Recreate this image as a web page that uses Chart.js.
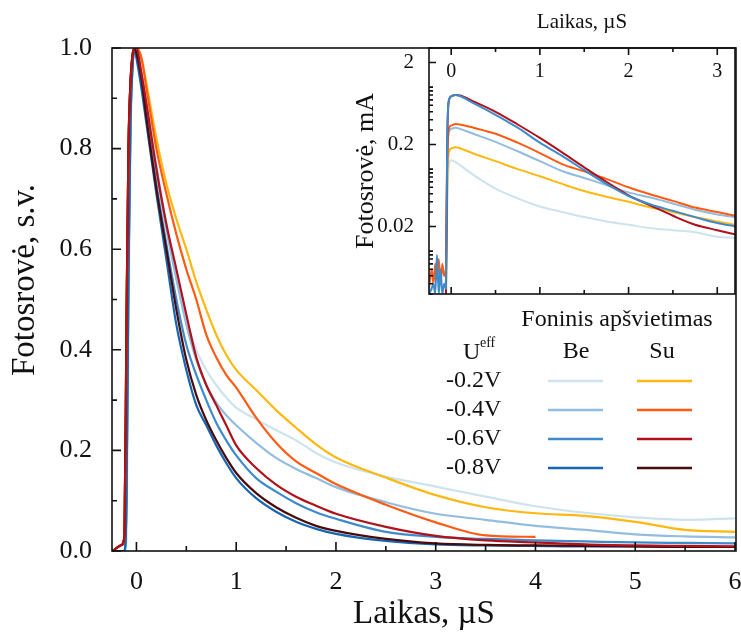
<!DOCTYPE html>
<html>
<head>
<meta charset="utf-8">
<script src="https://cdn.jsdelivr.net/npm/chart.js@4.4.1/dist/chart.umd.min.js"></script>
<style>
  html, body { margin: 0; padding: 0; background: #fff; }
  #wrap { position: relative; width: 741px; height: 634px; }
  #main { position: absolute; left: 0; top: 0; }
  #inset { position: absolute; left: 340px; top: 0; }
</style>
</head>
<body>
<div id="wrap">
  <canvas id="main" width="741" height="634"></canvas>
  <canvas id="inset" width="401" height="300"></canvas>
</div>
<script>
// ---- main panel: normalised photocurrent vs time (us)
var mainTime = [-0.24, -0.15, -0.12, -0.1, -0.08, -0.06, -0.04, -0.02, 0, 0.05, 0.1, 0.2, 0.3, 0.4, 0.5, 0.6,
  0.7, 0.8, 0.9, 1.0, 1.2, 1.4, 1.6, 1.8, 2.0, 2.5, 3.0, 3.5, 4.0, 4.5, 5.0, 5.5, 6.0];

// "Be" = without background light, "Su" = with background light
var be02 = [0, 0, 0, 0.02, 0.4, 0.8, 0.95, 1.0, 0.99, 0.95, 0.89, 0.77, 0.65, 0.55, 0.46, 0.4,
  0.36, 0.33, 0.305, 0.285, 0.262, 0.24, 0.22, 0.195, 0.176, 0.148, 0.128, 0.108, 0.089, 0.076, 0.067, 0.062, 0.065];
var be04 = [0, 0, 0, 0.1, 0.55, 0.85, 0.96, 1.0, 0.99, 0.95, 0.88, 0.76, 0.64, 0.54, 0.45, 0.38,
  0.33, 0.295, 0.27, 0.25, 0.215, 0.185, 0.163, 0.145, 0.127, 0.097, 0.074, 0.062, 0.05, 0.042, 0.033, 0.029, 0.027];
var be06 = [0, 0, 0, 0.1, 0.55, 0.85, 0.96, 1.0, 0.99, 0.94, 0.87, 0.73, 0.61, 0.5, 0.41, 0.35,
  0.3, 0.255, 0.22, 0.19, 0.145, 0.118, 0.095, 0.077, 0.064, 0.038, 0.028, 0.024, 0.021, 0.019, 0.017, 0.016, 0.015];
var be08 = [0, 0, 0, 0.1, 0.55, 0.85, 0.96, 1.0, 0.98, 0.92, 0.85, 0.71, 0.58, 0.45, 0.36, 0.29,
  0.25, 0.21, 0.175, 0.145, 0.105, 0.078, 0.058, 0.044, 0.034, 0.02, 0.013, 0.011, 0.01, 0.009, 0.009, 0.008, 0.008];
var su02 = [0, 0.012, 0.03, 0.45, 0.8, 0.93, 0.985, 1.0, 1.0, 0.98, 0.93, 0.82, 0.73, 0.66, 0.6, 0.535,
  0.48, 0.43, 0.39, 0.36, 0.32, 0.28, 0.245, 0.212, 0.186, 0.146, 0.111, 0.087, 0.075, 0.07, 0.058, 0.042, 0.038];
var su04 = [0, 0.012, 0.03, 0.45, 0.8, 0.93, 0.985, 1.0, 1.0, 0.98, 0.92, 0.8, 0.71, 0.63, 0.56, 0.5,
  0.43, 0.385, 0.35, 0.325, 0.265, 0.215, 0.178, 0.155, 0.133, 0.092, 0.057, 0.031, 0.028, null, null, null, null];
var su06 = [0, 0.012, 0.03, 0.45, 0.8, 0.93, 0.985, 1.0, 1.0, 0.95, 0.89, 0.76, 0.65, 0.56, 0.47, 0.385,
  0.33, 0.29, 0.25, 0.21, 0.165, 0.132, 0.108, 0.09, 0.074, 0.048, 0.03, 0.021, 0.017, 0.013, 0.011, 0.01, 0.009];
var su08 = [0, 0.012, 0.03, 0.45, 0.8, 0.93, 0.985, 1.0, 0.99, 0.94, 0.86, 0.72, 0.6, 0.48, 0.38, 0.31,
  0.26, 0.22, 0.185, 0.155, 0.115, 0.087, 0.066, 0.05, 0.04, 0.024, 0.015, 0.012, 0.011, 0.01, 0.009, 0.008, 0.008];

// ---- inset: photocurrent in mA, log scale
var insetTime = [-0.25, -0.22, -0.2, -0.18, -0.16, -0.14, -0.12, -0.1, -0.08, -0.06, -0.045, -0.03, 0, 0.05,
  0.1, 0.25, 0.5, 0.75, 1.0, 1.25, 1.5, 1.75, 2.0, 2.25, 2.5, 2.75, 3.0, 3.2];
var insetBe02 = [0.002, 0.002, 0.002, 0.002, 0.002, 0.002, 0.002, 0.002, 0.002, 0.0025, 0.03, 0.1, 0.128, 0.122,
  0.112, 0.085, 0.058, 0.044, 0.035, 0.03, 0.026, 0.023, 0.021, 0.019, 0.018, 0.017, 0.015, 0.0145];
var insetBe04 = [0.002, 0.002, 0.002, 0.002, 0.002, 0.002, 0.002, 0.002, 0.002, 0.0025, 0.09, 0.27, 0.31, 0.32,
  0.31, 0.27, 0.215, 0.165, 0.125, 0.095, 0.078, 0.064, 0.052, 0.045, 0.038, 0.032, 0.028, 0.026];
var insetBe06 = [0.003, 0.0035, 0.004, 0.003, 0.009, 0.003, 0.006, 0.003, 0.004, 0.0035, 0.2, 0.66, 0.77, 0.8,
  0.78, 0.64, 0.46, 0.32, 0.21, 0.145, 0.097, 0.066, 0.047, 0.037, 0.031, 0.026, 0.022, 0.02];
var insetSu02 = [0.002, 0.002, 0.002, 0.002, 0.002, 0.002, 0.002, 0.002, 0.002, 0.0025, 0.05, 0.155, 0.178, 0.185,
  0.18, 0.155, 0.125, 0.1, 0.082, 0.066, 0.054, 0.046, 0.04, 0.034, 0.03, 0.026, 0.023, 0.021];
var insetSu04 = [0.0035, 0.006, 0.004, 0.007, 0.0045, 0.008, 0.004, 0.007, 0.005, 0.006, 0.1, 0.3, 0.34, 0.356,
  0.35, 0.32, 0.27, 0.21, 0.157, 0.115, 0.094, 0.076, 0.06, 0.049, 0.041, 0.034, 0.03, 0.027];
var insetSu06 = [0.002, 0.002, 0.002, 0.002, 0.002, 0.002, 0.002, 0.002, 0.002, 0.0025, 0.19, 0.64, 0.77, 0.8,
  0.79, 0.67, 0.5, 0.35, 0.24, 0.16, 0.105, 0.07, 0.048, 0.036, 0.027, 0.021, 0.018, 0.016];

// ---- ticks / legend text
var mainXTicks = [0, 0.5, 1, 1.5, 2, 2.5, 3, 3.5, 4, 4.5, 5, 5.5, 6];
var mainYTicks = [0, 0.1, 0.2, 0.3, 0.4, 0.5, 0.6, 0.7, 0.8, 0.9, 1.0];
var insetXTicks = [0, 0.5, 1, 1.5, 2, 2.5, 3];
var insetYLabelled = [0.02, 0.2, 2];
var ueffLabels = ['-0.2V', '-0.4V', '-0.6V', '-0.8V'];

var SERIF = "'Liberation Serif', 'Times New Roman', serif";
var INK = '#111';
var beColors = ['#cde3ef', '#93bde0', '#3d8bcb', '#1666b3'];
var suColors = ['#ffb811', '#ff5b14', '#b0111a', '#4b0a0b'];

function points(xs, ys) {
  return xs.map(function (x, i) { return { x: x, y: ys[i] }; });
}

function lineSet(label, xs, ys, color, width) {
  return {
    label: label,
    data: points(xs, ys),
    borderColor: color,
    backgroundColor: color,
    borderWidth: width,
    pointRadius: 0,
    fill: false,
    spanGaps: false,
    cubicInterpolationMode: 'monotone'
  };
}

function fixedTicks(values) {
  return function (scale) {
    scale.ticks = values.map(function (v) { return { value: v }; });
  };
}

// keep the plot edge where it is, do not reserve room for the edge labels
function noEdgePadding(s) {
  s.paddingLeft = 0;
  s.paddingRight = 0;
  s.paddingTop = 0;
  s.paddingBottom = 0;
}

function isInt(v) {
  return Math.abs(v - Math.round(v)) < 1e-9;
}

// box around the plot area, inward tick marks, optional labels inside the top edge
var framePlugin = {
  id: 'frame',
  afterDatasetsDraw: function (chart, args, opts) {
    var a = chart.chartArea;
    var ctx = chart.ctx;
    var xs = chart.scales.x;
    var ys = chart.scales.y;
    ctx.save();
    ctx.strokeStyle = INK;
    ctx.lineWidth = 1.6;
    ctx.strokeRect(a.left, a.top, a.right - a.left, a.bottom - a.top);
    ctx.beginPath();
    xs.ticks.forEach(function (t) {
      var px = xs.getPixelForValue(t.value);
      var len = opts.xMajor(t.value) ? opts.major : opts.minor;
      ctx.moveTo(px, a.bottom);
      ctx.lineTo(px, a.bottom - len);
      if (opts.topTicks) {
        ctx.moveTo(px, a.top);
        ctx.lineTo(px, a.top + len);
      }
    });
    ys.ticks.forEach(function (t) {
      var py = ys.getPixelForValue(t.value);
      if (py < a.top - 0.5 || py > a.bottom + 0.5) return;
      var len = opts.yMajor(t.value) ? opts.major : opts.minor;
      ctx.moveTo(a.left, py);
      ctx.lineTo(a.left + len, py);
    });
    ctx.stroke();

    if (opts.insideLabels) {
      ctx.fillStyle = INK;
      ctx.font = opts.insideFont;
      ctx.textAlign = 'center';
      ctx.textBaseline = 'middle';
      xs.ticks.forEach(function (t) {
        if (!opts.xMajor(t.value)) return;
        ctx.fillText(String(t.value), xs.getPixelForValue(t.value), a.top + opts.insideOffset);
      });
    }
    ctx.restore();
  }
};

// y title (sits a bit above centre in the original) and the Be/Su table legend
var tablePlugin = {
  id: 'tableLegend',
  afterDraw: function (chart) {
    var ctx = chart.ctx;
    var sets = chart.data.datasets;
    ctx.save();
    ctx.fillStyle = INK;

    ctx.save();
    ctx.translate(34, 280);
    ctx.rotate(-Math.PI / 2);
    ctx.font = '33px ' + SERIF;
    ctx.textAlign = 'center';
    ctx.textBaseline = 'alphabetic';
    ctx.fillText('Fotosrovė, s.v.', 0, 0);
    ctx.restore();

    ctx.textBaseline = 'middle';
    ctx.font = '24px ' + SERIF;
    ctx.textAlign = 'center';
    ctx.fillText('Foninis apšvietimas', 617, 320);
    ctx.fillText('Be', 576, 352);
    ctx.fillText('Su', 662, 352);
    ctx.textAlign = 'left';
    ctx.fillText('U', 463, 353);
    ctx.font = '14px ' + SERIF;
    ctx.fillText('eff', 480, 343);

    ctx.font = '24px ' + SERIF;
    ctx.lineWidth = 2.5;
    ueffLabels.forEach(function (lab, i) {
      var y = 381 + i * 29;
      ctx.fillStyle = INK;
      ctx.fillText(lab, 446, y);
      var be = sets.filter(function (d) { return d.label === 'Be ' + lab; })[0];
      var su = sets.filter(function (d) { return d.label === 'Su ' + lab; })[0];
      ctx.strokeStyle = be.borderColor;
      ctx.beginPath(); ctx.moveTo(548, y); ctx.lineTo(603, y); ctx.stroke();
      ctx.strokeStyle = su.borderColor;
      ctx.beginPath(); ctx.moveTo(637, y); ctx.lineTo(692, y); ctx.stroke();
    });
    ctx.restore();
  }
};

var mainSets = [
  lineSet('Su -0.6V', mainTime, su06, suColors[2], 2.2),
  lineSet('Su -0.8V', mainTime, su08, suColors[3], 2.2),
  lineSet('Su -0.4V', mainTime, su04, suColors[1], 2.2),
  lineSet('Su -0.2V', mainTime, su02, suColors[0], 2.2),
  lineSet('Be -0.8V', mainTime, be08, beColors[3], 2.2),
  lineSet('Be -0.6V', mainTime, be06, beColors[2], 2.2),
  lineSet('Be -0.4V', mainTime, be04, beColors[1], 2.2),
  lineSet('Be -0.2V', mainTime, be02, beColors[0], 2.2)
];

new Chart(document.getElementById('main'), {
  type: 'line',
  data: { datasets: mainSets },
  plugins: [framePlugin, tablePlugin],
  options: {
    responsive: false,
    animation: false,
    devicePixelRatio: 1,
    layout: { padding: { top: 48, right: 5, bottom: 0, left: 0 } },
    plugins: {
      legend: { display: false },
      tooltip: { enabled: false },
      frame: {
        major: 9,
        minor: 5,
        topTicks: false,
        insideLabels: false,
        xMajor: isInt,
        yMajor: function (v) { return Math.round(v * 10) % 2 === 0; }
      }
    },
    scales: {
      x: {
        type: 'linear',
        min: -0.245,
        max: 6.01,
        afterBuildTicks: fixedTicks(mainXTicks),
        afterFit: function (s) { s.height = 83; noEdgePadding(s); },
        grid: { display: false },
        border: { display: false },
        ticks: {
          autoSkip: false,
          maxRotation: 0,
          padding: 8,
          color: INK,
          font: { family: SERIF, size: 26 },
          callback: function (v) { return isInt(v) ? String(v) : ''; }
        },
        title: {
          display: true,
          text: 'Laikas, µS',
          color: INK,
          font: { family: SERIF, size: 33 },
          padding: { top: 0, bottom: 0 }
        }
      },
      y: {
        min: 0,
        max: 1.0,
        afterBuildTicks: fixedTicks(mainYTicks),
        afterFit: function (s) { s.width = 112; noEdgePadding(s); },
        grid: { display: false },
        border: { display: false },
        ticks: {
          autoSkip: false,
          padding: 12,
          color: INK,
          font: { family: SERIF, size: 26 },
          callback: function (v) { return Math.round(v * 10) % 2 === 0 ? v.toFixed(1) : ''; }
        }
      }
    }
  }
});

// blue drawn over the dark red near the peak, as in the original
var insetSets = [
  lineSet('Be -0.6V', insetTime, insetBe06, beColors[2], 2),
  lineSet('Su -0.6V', insetTime, insetSu06, suColors[2], 2),
  lineSet('Su -0.4V', insetTime, insetSu04, suColors[1], 2),
  lineSet('Be -0.4V', insetTime, insetBe04, beColors[1], 2),
  lineSet('Su -0.2V', insetTime, insetSu02, suColors[0], 2),
  lineSet('Be -0.2V', insetTime, insetBe02, beColors[0], 2)
];

var insetYTicks = [];
[0.001, 0.01, 0.1, 1].forEach(function (dec) {
  for (var k = 1; k <= 9; k++) {
    var v = +(k * dec).toPrecision(3);
    if (v >= 0.003 && v <= 3) insetYTicks.push(v);
  }
});

new Chart(document.getElementById('inset'), {
  type: 'line',
  data: { datasets: insetSets },
  plugins: [framePlugin],
  options: {
    responsive: false,
    animation: false,
    devicePixelRatio: 1,
    layout: { padding: { top: 0, right: 6, bottom: 6, left: 0 } },
    plugins: {
      legend: { display: false },
      tooltip: { enabled: false },
      frame: {
        major: 7,
        minor: 4,
        topTicks: true,
        insideLabels: true,
        insideFont: '20px ' + SERIF,
        insideOffset: 24,
        xMajor: isInt,
        yMajor: function (v) { return insetYLabelled.indexOf(v) >= 0; }
      }
    },
    scales: {
      x: {
        type: 'linear',
        position: 'top',
        min: -0.25,
        max: 3.2,
        afterBuildTicks: fixedTicks(insetXTicks),
        afterFit: function (s) { s.height = 48; noEdgePadding(s); },
        grid: { display: false },
        border: { display: false },
        ticks: { display: false },
        title: {
          display: true,
          text: 'Laikas, µS',
          color: INK,
          font: { family: SERIF, size: 21 },
          padding: { top: 10, bottom: 0 }
        }
      },
      y: {
        type: 'logarithmic',
        min: 0.003,
        max: 3,
        afterBuildTicks: fixedTicks(insetYTicks),
        afterFit: function (s) { s.width = 89; noEdgePadding(s); },
        grid: { display: false },
        border: { display: false },
        ticks: {
          autoSkip: false,
          padding: 7,
          color: INK,
          font: { family: SERIF, size: 21 },
          callback: function (v) { return insetYLabelled.indexOf(v) >= 0 ? String(v) : ''; }
        },
        title: {
          display: true,
          text: 'Fotosrovė, mA',
          color: INK,
          font: { family: SERIF, size: 26 },
          padding: { top: 11, bottom: 0 }
        }
      }
    }
  }
});
</script>
</body>
</html>
